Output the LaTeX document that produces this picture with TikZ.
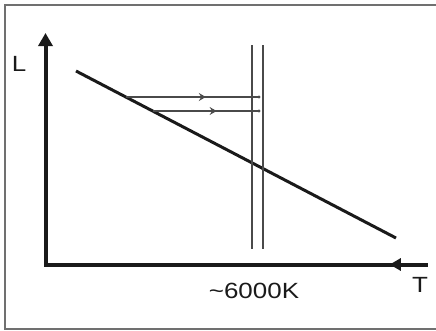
\documentclass[tikz,border=0pt]{standalone}
\usepackage{fontspec}
\setmainfont[FakeStretch=1.18]{Liberation Sans}
\usetikzlibrary{arrows.meta, decorations.markings, calc}
\definecolor{hrframe}{HTML}{707070}
\definecolor{hrline}{HTML}{1A1A1A}
\definecolor{hrthin}{HTML}{4A4A4A}

\begin{document}
\begin{tikzpicture}[x=1pt, y=-1pt,
          axis/.style={line width=4pt, hrline},
          track/.style={line width=3pt, hrline},
          limit/.style={line width=1.2pt, hrthin},
          flow/.style={line width=1.2pt, hrthin, postaction={decorate}, decoration={markings,
              mark=at position 0.6 with {\arrow{Stealth[length=7pt, width=8pt, inset=2.5pt]}}}},
          lbl/.style={font=\fontsize{22}{26}\selectfont, inner sep=0pt, text=hrline}]
        \useasboundingbox (0,0) rectangle (436,330);
        % frame
        \draw[hrframe, line width=1.2pt] (436,5) -- (5,5) -- (5,329) -- (436,329);
        % axes
        \coordinate (o) at (45.5,264.5);
        \coordinate (ytop) at (45.5,33);
        \coordinate (xend) at (428,264.5);
        \draw[axis, -{Triangle[length=13pt, width=14pt]}] ($(o)+(0,2)$) -- (ytop);
        \draw[axis, postaction={decorate}, decoration={markings,
              mark=at position 0.9 with {\arrowreversed{Triangle[length=11pt, width=12pt]}}}] (o) -- (xend);
        \node[lbl] (l) at (19,64) {L};
        \node[lbl] (t) at (420,285) {T};
        \node[lbl] (k) at (254,291) {\textasciitilde 6000K};
        % main sequence
        \coordinate (d1) at (76,71);
        \coordinate (d2) at (396,238);
        \draw[track] (d1) -- (d2);
        % temperature limits
        \coordinate (v1) at (252,45);
        \coordinate (w1) at (252,249);
        \coordinate (v2) at (263,45);
        \coordinate (w2) at (263,249);
        \draw[limit] (v1) -- (w1);
        \draw[limit] (v2) -- (w2);
        % horizontal shifts
        \coordinate (a2) at (126,97);
        \coordinate (a3) at (153,111);
        \coordinate (e1) at (259,97);
        \coordinate (e2) at (259,111);
        \draw[flow] (a2) -- (e1);
        \draw[flow] (a3) -- (e2);
        \fill[hrthin] (e1) circle (1.6pt);
        \fill[hrthin] (e2) circle (1.6pt);
      \end{tikzpicture}
\end{document}
